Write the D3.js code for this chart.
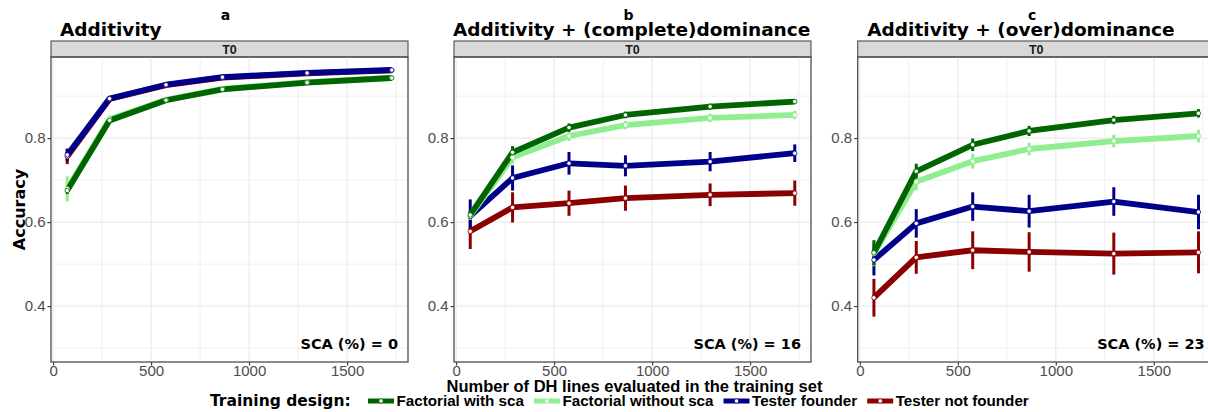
<!DOCTYPE html>
<html>
<head>
<meta charset="utf-8">
<script src="https://d3js.org/d3.v7.min.js"></script>
<style>
  body { margin: 0; background: white; }
  text { font-family: "DejaVu Sans", sans-serif; }
</style>
</head>
<body>
<div id="chart"></div>
<script>

// training set sizes (x) shared by every panel
var trainSize = [72, 288, 576, 864, 1296, 1728];
var designs = ["Factorial with sca", "Factorial without sca", "Tester founder", "Tester not founder"];
var designColors = ["#006400", "#90EE90", "#00008B", "#8B0000"];

var panelLetters = ["a", "b", "c"];
var panelTitles = ["Additivity", "Additivity + (complete)dominance", "Additivity + (over)dominance"];
var scaPct = [0, 16, 23];
var stripLabel = "T0";

var xTicks = [0, 500, 1000, 1500];
var xMinor = [250, 750, 1250, 1750];
var yTicks = [0.4, 0.6, 0.8];
var yMinor = [0.3, 0.5, 0.7, 0.9];

// accuracy per design (same order as designs) -- panel a
var accA = [
  [0.675, 0.842, 0.890, 0.916, 0.932, 0.943],
  [0.679, 0.845, 0.891, 0.917, 0.933, 0.944],
  [0.760, 0.894, 0.927, 0.945, 0.955, 0.962],
  [0.756, 0.893, 0.926, 0.944, 0.954, 0.961]
];
var errA = [
  [0.008, 0.006, 0.005, 0.004, 0.004, 0.004],
  [0.030, 0.008, 0.005, 0.004, 0.004, 0.004],
  [0.015, 0.005, 0.004, 0.003, 0.003, 0.003],
  [0.018, 0.005, 0.004, 0.003, 0.003, 0.003]
];
// panel b
var accB = [
  [0.617, 0.766, 0.825, 0.855, 0.875, 0.887],
  [0.615, 0.754, 0.805, 0.831, 0.848, 0.855],
  [0.614, 0.705, 0.740, 0.734, 0.744, 0.764],
  [0.578, 0.635, 0.645, 0.657, 0.665, 0.669]
];
var errB = [
  [0.010, 0.015, 0.010, 0.008, 0.007, 0.006],
  [0.010, 0.015, 0.012, 0.010, 0.010, 0.010],
  [0.040, 0.030, 0.027, 0.025, 0.023, 0.021],
  [0.042, 0.036, 0.030, 0.030, 0.027, 0.030]
];
// panel c
var accC = [
  [0.527, 0.721, 0.784, 0.817, 0.843, 0.859],
  [0.525, 0.696, 0.745, 0.774, 0.793, 0.805],
  [0.510, 0.597, 0.637, 0.626, 0.649, 0.624],
  [0.420, 0.516, 0.533, 0.529, 0.525, 0.528]
];
var errC = [
  [0.030, 0.018, 0.015, 0.012, 0.010, 0.010],
  [0.030, 0.020, 0.018, 0.015, 0.015, 0.015],
  [0.037, 0.034, 0.034, 0.039, 0.034, 0.041],
  [0.045, 0.039, 0.045, 0.047, 0.050, 0.050]
];

var accAll = [accA, accB, accC];
var errAll = [errA, errB, errC];

var width = 1208, height = 412;
var svg = d3.select("#chart").append("svg")
  .attr("width", width).attr("height", height)
  .style("display", "block");

var panelLeft = [51, 454, 857.7];
var panelW = 357, panelTop = 57, panelH = 305, stripH = 16;
var titleDx = [9, -1, 9.6];

// ggplot style 5% expansion
var xRange = trainSize[trainSize.length - 1] - trainSize[0];
var x = d3.scaleLinear()
  .domain([trainSize[0] - 0.05 * xRange, trainSize[trainSize.length - 1] + 0.05 * xRange])
  .range([0, panelW]);
var y = d3.scaleLinear().domain([0.3 - 0.033, 0.96 + 0.033]).range([panelH, 0]);

var line = d3.line().x(function(d) { return x(d[0]); }).y(function(d) { return y(d[1]); });

for (var p = 0; p < 3; p++) {
  var g = svg.append("g").attr("transform", "translate(" + panelLeft[p] + "," + panelTop + ")");

  // letter + title
  svg.append("text").attr("x", panelLeft[p] + panelW / 2 - 4).attr("y", 20)
    .attr("text-anchor", "middle").attr("font-weight", "bold").attr("font-size", 14)
    .text(panelLetters[p]);
  svg.append("text").attr("x", panelLeft[p] + titleDx[p]).attr("y", 36)
    .attr("font-weight", "bold").attr("font-size", 18.5)
    .text(panelTitles[p]);

  // strip
  g.append("rect").attr("x", 0).attr("y", -stripH).attr("width", panelW).attr("height", stripH)
    .attr("fill", "#D9D9D9").attr("stroke", "#4D4D4D").attr("stroke-width", 1.1);
  g.append("text").attr("x", panelW / 2).attr("y", -stripH / 2).attr("dy", "0.36em")
    .attr("text-anchor", "middle").attr("font-weight", "bold").attr("font-size", 12.5)
    .style("font-family", "Liberation Sans, Arial, sans-serif").attr("fill", "#1A1A1A")
    .text(stripLabel);

  // grid
  g.selectAll(".gxm").data(xMinor).enter().append("line")
    .attr("x1", function(d) { return x(d); }).attr("x2", function(d) { return x(d); })
    .attr("y1", 0).attr("y2", panelH).attr("stroke", "#F0F0F0").attr("stroke-width", 1);
  g.selectAll(".gym").data(yMinor).enter().append("line")
    .attr("y1", function(d) { return y(d); }).attr("y2", function(d) { return y(d); })
    .attr("x1", 0).attr("x2", panelW).attr("stroke", "#F0F0F0").attr("stroke-width", 1);
  g.selectAll(".gx").data(xTicks).enter().append("line")
    .attr("x1", function(d) { return x(d); }).attr("x2", function(d) { return x(d); })
    .attr("y1", 0).attr("y2", panelH).attr("stroke", "#EBEBEB").attr("stroke-width", 1.2);
  g.selectAll(".gy").data(yTicks).enter().append("line")
    .attr("y1", function(d) { return y(d); }).attr("y2", function(d) { return y(d); })
    .attr("x1", 0).attr("x2", panelW).attr("stroke", "#EBEBEB").attr("stroke-width", 1.2);

  // axes
  var xa = g.append("g").attr("transform", "translate(0," + panelH + ")")
    .call(d3.axisBottom(x).tickValues(xTicks).tickSize(3.5).tickPadding(0).tickSizeOuter(0)
      .tickFormat(d3.format("d")));
  var ya = g.append("g")
    .call(d3.axisLeft(y).tickValues(yTicks).tickSize(3.5).tickPadding(2).tickSizeOuter(0)
      .tickFormat(d3.format(".1f")));
  [xa, ya].forEach(function(a) {
    a.select(".domain").remove();
    a.attr("font-size", 15).attr("font-family", "Liberation Sans, Arial, sans-serif");
    a.selectAll(".tick line").attr("stroke", "#333333").attr("stroke-width", 1.1);
    a.selectAll(".tick text").attr("fill", "#4D4D4D")
      .style("font-size", "15px")
      .style("font-family", "Liberation Sans, Arial, sans-serif");
  });

  var acc = accAll[p], err = errAll[p];

  // error bars (drawn under lines)
  for (var s = 3; s >= 0; s--) {
    g.selectAll(".eb" + s).data(trainSize).enter().append("line")
      .attr("x1", function(d) { return x(d); }).attr("x2", function(d) { return x(d); })
      .attr("y1", function(d, i) { return y(acc[s][i] - err[s][i]); })
      .attr("y2", function(d, i) { return y(acc[s][i] + err[s][i]); })
      .attr("stroke", designColors[s]).attr("stroke-width", 3);
  }
  // lines, red first so dark green ends on top
  for (var s = 3; s >= 0; s--) {
    var pts = trainSize.map(function(d, i) { return [d, acc[s][i]]; });
    g.append("path").datum(pts).attr("d", line)
      .attr("fill", "none").attr("stroke", designColors[s]).attr("stroke-width", 5.8)
      .attr("stroke-linejoin", "round");
  }
  for (var s = 3; s >= 0; s--) {
    g.selectAll(".pt" + s).data(trainSize).enter().append("circle")
      .attr("cx", function(d) { return x(d); })
      .attr("cy", function(d, i) { return y(acc[s][i]); })
      .attr("r", 2.2).attr("fill", "white").attr("stroke", designColors[s]).attr("stroke-width", 0.8);
  }

  // panel border
  g.append("rect").attr("width", panelW).attr("height", panelH)
    .attr("fill", "none").attr("stroke", "#4D4D4D").attr("stroke-width", 1.3);

  g.append("text").attr("x", panelW - 10).attr("y", 292).attr("text-anchor", "end")
    .attr("font-weight", "bold").attr("font-size", 14.5)
    .text("SCA (%) = " + scaPct[p]);
}

// y axis title
svg.append("text").attr("transform", "translate(24.5," + (panelTop + panelH / 2) + ") rotate(-90)")
  .attr("text-anchor", "middle").attr("font-weight", "bold").attr("font-size", 16)
  .text("Accuracy");

// x axis title
svg.append("text").attr("x", 634.5).attr("y", 391.5).attr("text-anchor", "middle")
  .attr("font-weight", "bold").attr("font-size", 16.5)
  .style("font-family", "Liberation Sans, Arial, sans-serif")
  .text("Number of DH lines evaluated in the training set");

// legend
var leg = svg.append("g");
leg.append("text").attr("x", 210).attr("y", 406).attr("font-weight", "bold").attr("font-size", 15.5)
  .text("Training design:");
var lx = 368;
designs.forEach(function(name, i) {
  leg.append("line").attr("x1", lx).attr("x2", lx + 26).attr("y1", 401).attr("y2", 401)
    .attr("stroke", designColors[i]).attr("stroke-width", 5);
  leg.append("circle").attr("cx", lx + 13).attr("cy", 401).attr("r", 2.2)
    .attr("fill", "white").attr("stroke", designColors[i]).attr("stroke-width", 0.8);
  var t = leg.append("text").attr("x", lx + 28.5).attr("y", 405.5)
    .attr("font-weight", "bold").attr("font-size", 15.2)
    .style("font-family", "Liberation Sans, Arial, sans-serif")
    .text(name);
  lx = lx + 28.5 + t.node().getComputedTextLength() + 10;
});

</script>
</body>
</html>
